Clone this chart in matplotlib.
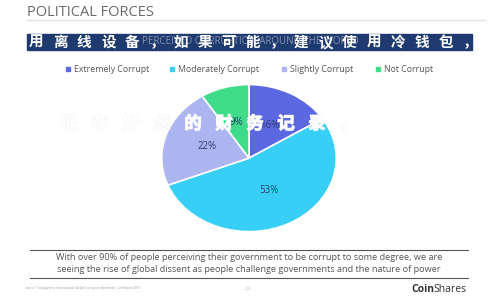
import matplotlib.pyplot as plt
import matplotlib.patheffects as pe
import numpy as np

plt.rcParams['font.family'] = ['Open Sans', 'Noto Sans CJK SC', 'DejaVu Sans']

categories = ["Extremely Corrupt", "Moderately Corrupt", "Slightly Corrupt", "Not Corrupt"]
shares = [16, 53, 22, 9]
colors = ["#5b68e2", "#38cff7", "#adb5f1", "#3edc89"]

title = "POLITICAL FORCES"
banner_under = "PERCEIVED CORRUPTION AROUND THE WORLD"
banner_cn = "用离线设备，如果可能，建议使用冷钱包，"
overlay_cn = "保存好您的财务记录，"
caption = ["With over 90% of people perceiving their government to be corrupt to some degree, we are",
           "seeing the rise of global dissent as people challenge governments and the nature of power"]
source = "Source: Transparency International, Global Corruption Barometer, CoinShares 2019"
page = "- 25 -"

fig = plt.figure(figsize=(5, 3), dpi=100)
bg = fig.add_axes([0, 0, 1, 1])
bg.set_xlim(0, 500)
bg.set_ylim(300, 0)
bg.axis('off')

# title + rule
bg.text(27, 12, title, fontsize=10.5, color="#6b6b6b", va='center', ha='left')
bg.plot([27, 485], [20, 20], color="#e2e2e2", lw=1)

# legend
leg_x = [68, 172, 284, 378]
for x, c, name in zip(leg_x, colors, categories):
    bg.plot(x, 69, marker='s', ms=2.8, color=c, mec=c)
    bg.text(x + 6, 69, name, fontsize=6.3, color="#555555", va='center', ha='left')

# pie
ax = fig.add_axes([0.32, 0.223, 0.356, 0.5])
wedges, texts, autotexts = ax.pie(shares, colors=colors, startangle=90, counterclock=False,
                                  autopct=lambda p: f"{p:.0f}%", pctdistance=0.5,
                                  wedgeprops=dict(edgecolor='white', linewidth=1.2),
                                  textprops=dict(fontsize=7, color="#2f3d6b"))
ax.set_aspect('auto')
ax.set_xlim(-1.02, 1.02)
ax.set_ylim(-1.02, 1.02)
ax.axis('off')

# overlay banner (drawn on top of everything)
top = fig.add_axes([0, 0, 1, 1], zorder=5)
top.set_xlim(0, 500)
top.set_ylim(300, 0)
top.axis('off')
top.add_patch(plt.Rectangle((27, 34), 445, 16, color="#1f3a6e", zorder=1))
top.text(250, 42, banner_under, fontsize=7, color="#c8d0e0", alpha=0.6,
         ha='center', va='center', zorder=2)
xs = np.linspace(36, 470, len(banner_cn))
for x, ch in zip(xs, banner_cn):
    top.text(x, 42, ch, fontsize=10.5, color="white", fontweight='bold',
             family=['Noto Sans CJK SC'], ha='center', va='center', zorder=3)
xs2 = 69 + 31 * np.arange(len(overlay_cn))
for x, ch in zip(xs2, overlay_cn):
    top.text(x, 124, ch, fontsize=12.5, color="white", fontweight='bold',
             family=['Noto Sans CJK SC'], ha='center', va='center', zorder=3,
             path_effects=[pe.withStroke(linewidth=0.8, foreground="#f4f4f8")])

# caption
bg.plot([30, 468], [250, 250], color="#555555", lw=0.8)
bg.text(249, 258, caption[0], fontsize=6.6, color="#555555", ha='center', va='center')
bg.text(249, 270, caption[1], fontsize=6.6, color="#555555", ha='center', va='center')
bg.plot([30, 468], [278, 278], color="#555555", lw=0.8)

# footer
bg.text(25, 288, source, fontsize=2.2, color="#999999", ha='left', va='center')
bg.text(248, 289, page, fontsize=3, color="#aaaaaa", ha='center', va='center')
bg.text(411, 289, "Coin", fontsize=7.5, fontweight='bold', color="#333333", ha='left', va='center')
bg.text(433, 289, "Shares", fontsize=7.5, color="#333333", ha='left', va='center')

fig.savefig("out.png", dpi=100)
